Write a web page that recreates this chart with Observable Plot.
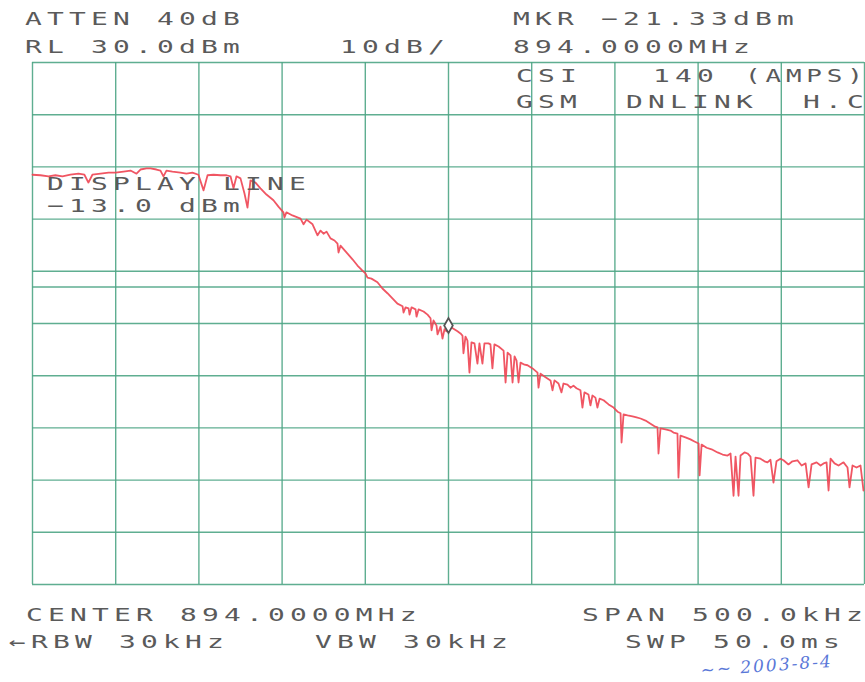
<!DOCTYPE html>
<html>
<head>
<meta charset="utf-8">
<script src="https://cdn.jsdelivr.net/npm/d3@7"></script>
<script src="https://cdn.jsdelivr.net/npm/@observablehq/plot@0.6"></script>
<style>
  html, body { margin: 0; padding: 0; background: #fff; overflow: hidden; }
  #wrap { position: relative; width: 865px; height: 682px; overflow: hidden; background: #fff; }
  #chart { position: absolute; left: 0; top: 0; }
  .t { position: absolute; white-space: pre; font-family: "DejaVu Sans Mono", monospace; font-size: 18px;
       line-height: 18px; color: #5a5a5a; letter-spacing: 3.35px; transform: scaleX(1.55); transform-origin: 0 0; }
  .t .last { letter-spacing: 0; }
  .hand { position: absolute; white-space: pre; font-family: "DejaVu Serif", serif; font-style: italic;
       font-size: 17px; line-height: 17px; color: #5a78d8; transform: rotate(-4deg); transform-origin: 0 0; letter-spacing: 2px; }
</style>
</head>
<body>
<div id="wrap">
  <div id="chart"></div>
</div>
<script>
// Axis definition (spectrum analyzer screen): center 894.0000 MHz, span 500 kHz, RL 30 dBm, 10 dB/div
const xTicks = [-250, -200, -150, -100, -50, 0, 50, 100, 150, 200, 250];   // kHz offset from center
const yTicks = [30, 20, 10, 0, -10, -20, -30, -40, -50, -60, -70];          // dBm
const displayLine = [-13.0];                                                // dBm

// Trace: frequency offset (kHz) and level (dBm)
const freqKHz = [
  -250, -245.2, -240.4, -236.2, -232.0, -227.2, -222.4, -218.8, -216.4, -214.0,
  -209.1, -204.3, -200.1, -195.3, -191.1, -187.5, -185.1, -181.5, -179.1, -175.5,
  -173.1, -171.3, -169.5, -165.9, -161.1, -157.5, -153.9, -150.3, -147.2, -144.8,
  -141.2, -137.0, -133.4, -131.0, -129.2, -127.4, -125.0, -122.6, -120.8, -119.0,
  -116.0, -113.0, -109.4, -105.2, -102.2, -99.2, -98.6, -97.4, -93.8, -88.9,
  -87.1, -85.3, -81.7, -78.7, -76.9, -75.1, -73.3, -70.9, -68.5, -66.7,
  -66.1, -64.9, -60.7, -57.7, -54.7, -52.3, -49.9, -48.7, -46.3, -42.7,
  -39.7, -36.7, -33.7, -30.7, -27.6, -27.0, -25.8, -24.0, -23.4, -22.2,
  -19.8, -19.2, -18.0, -15.0, -12.6, -10.8, -10.2, -9.0, -7.2, -6.6,
  -4.8, -3.6, -2.4, -1.2, 0, 3.0, 5.4, 7.2, 8.4, 9.0,
  10.2, 11.4, 12.6, 13.8, 15.6, 17.4, 18.6, 20.4, 21.6, 24.0,
  25.2, 26.4, 27.6, 30.1, 33.1, 34.3, 35.5, 37.3, 38.5, 39.7,
  40.9, 42.1, 43.3, 45.7, 47.5, 50.5, 53.5, 54.1, 55.3, 58.3,
  61.3, 62.5, 63.7, 66.1, 67.9, 69.1, 71.5, 73.3, 75.1, 76.9,
  79.3, 80.5, 81.7, 84.1, 85.3, 86.5, 88.3, 89.5, 90.8, 93.2,
  96.2, 99.2, 101.6, 103.4, 104.0, 105.2, 107.6, 110.6, 113.0, 115.4,
  118.4, 121.4, 123.8, 125.6, 126.2, 127.4, 130.4, 133.4, 135.2, 137.6,
  138.2, 139.4, 142.4, 145.4, 147.8, 150.3, 150.9, 152.1, 155.1, 158.1,
  161.7, 164.7, 167.7, 169.5, 171.3, 172.5, 174.3, 175.5, 177.9, 179.7,
  181.5, 183.3, 184.5, 187.5, 189.9, 191.7, 193.5, 195.3, 197.1, 199.5,
  201.3, 204.3, 206.7, 209.7, 212.2, 214.6, 216.4, 218.2, 221.2, 223.6,
  225.4, 227.2, 228.4, 229.6, 232.0, 234.4, 237.4, 239.8, 241.0, 242.8,
  245.2, 247.6, 249.4
];
const levelDBm = [
  8.5, 8.4, 8.2, 8.4, 8.2, 8.5, 8.7, 8.5, 7.0, 8.5,
  8.7, 8.9, 8.9, 9.1, 9.3, 8.7, 9.5, 9.7, 9.7, 9.5,
  9.3, 8.2, 9.3, 9.1, 8.9, 8.7, 8.9, 8.5, 5.5, 8.4,
  8.5, 8.4, 8.4, 8.2, 5.9, 8.2, 7.8, 4.9, 2.2, 7.4,
  7.0, 5.9, 4.7, 3.6, 2.4, 1.3, 0.3, 1.3, 0.7, 0.1,
  -1.0, -0.1, -1.0, -3.1, -2.2, -2.8, -2.4, -3.7, -4.1, -4.7,
  -6.4, -5.1, -6.6, -7.7, -8.9, -9.7, -10.4, -11.2, -11.4, -12.1,
  -13.3, -14.2, -15.2, -16.2, -16.7, -17.9, -16.9, -17.1, -18.3, -16.9,
  -17.3, -18.7, -17.3, -17.7, -18.3, -19.0, -21.3, -19.4, -20.4, -22.1,
  -20.6, -22.9, -21.1, -21.5, -20.4, -21.0, -21.5, -21.9, -22.3, -25.7,
  -22.5, -23.3, -29.4, -23.6, -23.8, -27.7, -23.8, -27.7, -23.8, -23.8,
  -24.0, -28.6, -24.0, -24.4, -25.2, -31.3, -25.6, -26.1, -31.3, -26.3,
  -27.1, -31.3, -27.5, -27.9, -28.0, -28.6, -29.4, -32.3, -29.6, -30.3,
  -30.9, -32.8, -30.9, -31.5, -33.2, -31.5, -31.7, -32.3, -31.9, -32.4,
  -32.8, -36.1, -33.2, -33.6, -35.7, -33.8, -34.2, -36.1, -34.4, -34.7,
  -35.5, -36.1, -36.9, -37.2, -42.8, -37.4, -37.6, -37.8, -38.0, -38.2,
  -38.6, -39.2, -39.7, -39.9, -44.9, -40.1, -40.3, -40.5, -40.9, -41.1,
  -49.5, -41.5, -41.8, -42.2, -42.6, -43.0, -49.1, -43.2, -43.8, -44.1,
  -44.7, -45.1, -45.3, -44.9, -53.0, -45.5, -53.0, -45.3, -44.7, -44.9,
  -45.5, -53.0, -45.7, -45.9, -46.4, -46.6, -46.1, -50.5, -46.4, -45.9,
  -46.2, -47.0, -46.4, -46.2, -47.2, -46.8, -51.4, -47.0, -46.6, -47.2,
  -46.8, -46.6, -52.0, -45.9, -46.8, -47.2, -46.6, -47.6, -51.4, -47.2,
  -47.6, -47.2, -52.0
];
// Marker (on the trace at the center frequency)
const markerKHz = [0];
const markerDBm = [-20.4];

const trace = freqKHz.map((f, i) => ({f, v: levelDBm[i]}));
const marker = markerKHz.map((f, i) => ({f, v: markerDBm[i]}));

const gridColor = "#4ea585";
const chart = Plot.plot({
  width: 865,
  height: 682,
  marginTop: 62,
  marginBottom: 98,
  marginLeft: 32,
  marginRight: 1,
  style: {background: "transparent"},
  x: {domain: [-250, 250], axis: null},
  y: {domain: [-70, 30], axis: null},
  marks: [
    Plot.ruleX(xTicks, {x: d => d, stroke: gridColor, strokeWidth: 1.4, strokeOpacity: 0.9}),
    Plot.ruleY(yTicks, {y: d => d, stroke: gridColor, strokeWidth: 1.4, strokeOpacity: 0.9}),
    Plot.ruleY(displayLine, {y: d => d, stroke: gridColor, strokeWidth: 1.4, strokeOpacity: 0.9}),
    Plot.line(trace, {x: "f", y: "v", stroke: "#ee4452", strokeWidth: 1.8, strokeOpacity: 0.9}),
    Plot.dot(marker, {x: "f", y: "v", symbol: "diamond", r: 4.5, stroke: "#555", strokeWidth: 1.8, fill: "#fff"})
  ]
});
document.getElementById("chart").appendChild(chart);

// Screen annotations (text labels)
const labels = [
  ["ATTEN 40dB", 25, 25],
  ["RL 30.0dBm", 25, 53],
  ["10dB/", 340, 53],
  ["MKR \u221221.33dBm", 513, 25],
  ["894.0000MHz", 513, 53],
  ["CSI", 516, 82],
  ["140", 653, 82],
  ["(AMPS)", 745, 82, 0.93],
  ["GSM", 516, 108],
  ["DNLINK", 626, 108],
  ["H.C", 803, 108],
  ["DISPLAY LINE", 47, 190],
  ["\u221213.0 dBm", 47, 212],
  ["CENTER 894.0000MHz", 26, 621],
  ["\u2190RBW 30kHz", 9, 648],
  ["VBW 30kHz", 315, 648],
  ["SPAN 500.0kHz", 582, 621],
  ["SWP 50.0ms", 625, 648]
];
const wrap = document.getElementById("wrap");
for (const [txt, x, base, sq] of labels) {
  const d = document.createElement("div");
  d.className = "t";
  d.appendChild(document.createTextNode(txt.slice(0, -1)));
  const last = document.createElement("span");
  last.className = "last";
  last.textContent = txt.slice(-1);
  d.appendChild(last);
  d.style.left = x + "px";
  d.style.top = (base - 15) + "px";
  if (sq) d.style.transform = `scaleX(${1.55 * sq})`;
  wrap.appendChild(d);
}
const h = document.createElement("div");
h.className = "hand";
h.textContent = "\u223C\u223C 2003-8-4";
h.style.left = "700px";
h.style.top = "662px";
wrap.appendChild(h);
</script>
</body>
</html>
